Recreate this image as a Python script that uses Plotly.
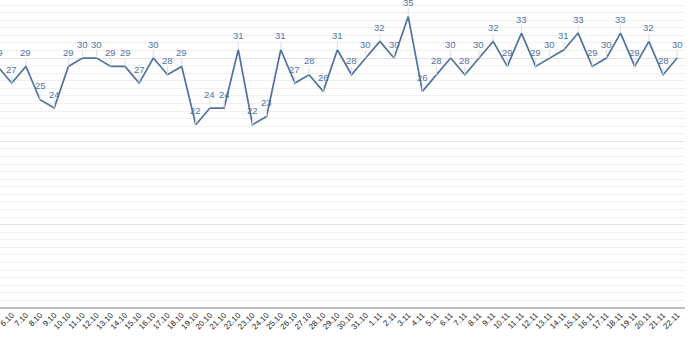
import plotly.graph_objects as go

# Daily dates (October 5 – November 22) and the measured values
dates = [f"{d}.10" for d in range(5, 32)] + [f"{d}.11" for d in range(1, 23)]
values = [29, 27, 29, 25, 24, 29, 30, 30, 29, 29, 27, 30, 28, 29, 22, 24, 24, 31,
          22, 23, 31, 27, 28, 26, 31, 28, 30, 32, 30, 35, 26, 28, 30, 28, 30, 32,
          29, 33, 29, 30, 31, 33, 29, 30, 33, 29, 32, 28, 30]

LINE = "rgb(80,114,160)"
LABEL = "rgb(82,116,164)"
FONT = "Liberation Sans, Arial, sans-serif"

X0 = 0.17          # left end of the visible x range
PX_PER_CAT = 685 / (48.55 - X0)

idx = list(range(len(dates)))

fig = go.Figure()
fig.add_trace(go.Scatter(
    x=idx, y=values, mode="lines",
    line=dict(color=LINE, width=1.7),
    hoverinfo="skip", showlegend=False,
))

# value labels with a short leader line down to each point;
# points left of the visible range are anchored at the edge and shifted
for i, v in zip(idx, values):
    shift = (i - X0) * PX_PER_CAT if i < X0 else 0
    fig.add_annotation(
        x=max(i, X0), y=v, xshift=shift, text=str(v), showarrow=True, arrowhead=0,
        arrowwidth=1, arrowcolor="#dedede", ax=0, ay=-14, standoff=0,
        font=dict(family=FONT, size=9.5, color=LABEL),
        borderpad=0,
    )

# date labels for categories left of the visible range
for i, d in zip(idx, dates):
    if i < X0:
        fig.add_annotation(
            x=X0, xshift=(i - X0) * PX_PER_CAT + 2, y=0, yref="y", text=d,
            showarrow=False, textangle=-45, xanchor="right", yanchor="top",
            yshift=-3, font=dict(family=FONT, size=8, color="#222"),
        )

fig.update_layout(
    width=700, height=339,
    margin=dict(l=0, r=15, t=0, b=31),
    paper_bgcolor="white", plot_bgcolor="white",
    xaxis=dict(
        range=[X0, 48.55], tickmode="array", tickvals=idx, ticktext=dates,
        tickangle=-45, tickfont=dict(family=FONT, size=8, color="#222"),
        ticklabeloverflow="allow",
        showgrid=False, zeroline=False, showline=False, ticks="",
    ),
    yaxis=dict(
        range=[0, 36.97], dtick=10, tick0=0, showticklabels=False,
        showgrid=True, gridcolor="#e2e2e2", gridwidth=1,
        zeroline=True, zerolinecolor="#bdbdbd", zerolinewidth=1.5,
        minor=dict(dtick=10 / 11, tick0=0, showgrid=True, gridcolor="#f0f0f0", gridwidth=1),
    ),
)

fig.write_html("out.html")
